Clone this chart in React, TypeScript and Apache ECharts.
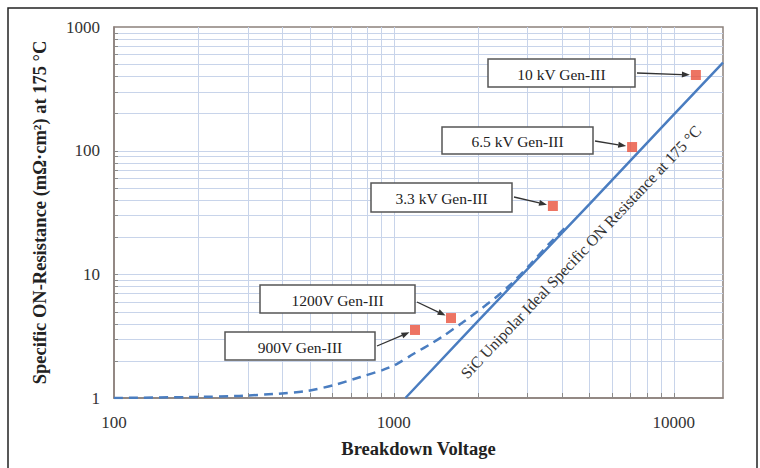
import React, { useEffect, useRef } from "react";
import * as echarts from "echarts";

// Axis structure
const xDecades = [100, 1000, 10000];
const yDecades = [1, 10, 100, 1000];
const xGridValues = [200, 300, 400, 500, 600, 700, 800, 900, 1000, 2000, 3000, 4000, 5000, 6000, 7000, 8000, 9000, 10000];
const yGridValues = [2, 3, 4, 5, 6, 7, 8, 9, 10, 20, 30, 40, 50, 60, 70, 80, 90, 100, 200, 300, 400, 500, 600, 700, 800, 900];

// SiC unipolar ideal specific on-resistance at 175 °C (solid line)
const idealVoltage = [1100, 2000, 5000, 10000, 15000];
const idealResistance = [1, 4.2, 37, 196, 515];

// Dashed curve
const practicalVoltage = [100, 200, 280, 380, 490, 610, 760, 910, 1010, 1190, 1370, 1520, 1750, 2000, 2300, 2600, 3060, 3600, 4150];
const practicalResistance = [1.0, 1.02, 1.04, 1.08, 1.14, 1.27, 1.48, 1.68, 1.85, 2.31, 2.78, 3.23, 4.04, 5.05, 6.43, 8.2, 11.9, 17.8, 24.5];

// Gen-III devices
const deviceLabels = ["900V Gen-III", "1200V Gen-III", "3.3 kV Gen-III", "6.5 kV Gen-III", "10 kV Gen-III"];
const deviceVoltage = [1190, 1600, 3700, 7100, 12000];
const deviceResistance = [3.55, 4.43, 35.7, 107, 409];

// Annotation box layout (pixels): x, y, width, height, arrow start y
const boxLayout = [
  [225, 332, 150, 28, 346],
  [260, 285, 155, 28, 302],
  [371, 183, 141, 29, 197],
  [442, 127, 151, 27, 141],
  [488, 59, 147, 28, 73],
];

const FONT = "Liberation Serif";
const BLUE = "#4a7dc0";
const FRAME = "#8c817c";
const GRID = "#c8d4ea";

export default function App() {
  const ref = useRef<HTMLDivElement>(null);
  useEffect(() => {
    const chart = echarts.init(ref.current!, null, { renderer: "svg" });
    const option: any = {
      animation: false,
      backgroundColor: "#ffffff",
      grid: {
        left: 114,
        right: 37,
        top: 27,
        bottom: 70,
        show: true,
        borderColor: FRAME,
        borderWidth: 1.5,
        backgroundColor: "transparent",
      },
      xAxis: {
        type: "log",
        logBase: 10,
        min: 100,
        max: 15000,
        name: "Breakdown Voltage",
        nameLocation: "middle",
        nameGap: 41,
        nameTextStyle: { fontFamily: FONT, fontWeight: "bold", fontSize: 18.5, color: "#222" },
        axisLine: { lineStyle: { color: FRAME, width: 1.5 } },
        axisTick: { show: false },
        splitLine: { show: false },
        axisLabel: {
          fontFamily: FONT,
          fontSize: 17,
          color: "#333",
          margin: 16,
          formatter: (v: number) => (xDecades.some((d) => Math.abs(d - v) < 1e-6) ? String(Math.round(v)) : ""),
        },
      },
      yAxis: {
        type: "log",
        logBase: 10,
        min: 1,
        max: 1000,
        name: "Specific ON-Resistance (mΩ·cm²) at 175 °C",
        nameLocation: "middle",
        nameGap: 65,
        nameTextStyle: { fontFamily: FONT, fontWeight: "bold", fontSize: 18.5, color: "#222" },
        axisLine: { lineStyle: { color: FRAME, width: 1.5 } },
        axisTick: { show: false },
        splitLine: { show: false },
        axisLabel: {
          fontFamily: FONT,
          fontSize: 17,
          color: "#333",
          margin: 14,
          formatter: (v: number) => (yDecades.some((d) => Math.abs(d - v) < 1e-6) ? String(Math.round(v)) : ""),
        },
      },
      series: [
        {
          type: "custom",
          silent: true,
          z: 1,
          data: xGridValues.map((v) => [v, 1]),
          renderItem: (_p: any, api: any) => {
            const v = api.value(0);
            const top = api.coord([v, 1000]);
            const bot = api.coord([v, 1]);
            const x = Math.round(top[0]) + 0.5;
            return {
              type: "group",
              children: [
                { type: "line", shape: { x1: x, y1: top[1], x2: x, y2: bot[1] }, style: { stroke: GRID, lineWidth: 1 } },
                { type: "line", shape: { x1: x, y1: bot[1], x2: x, y2: bot[1] - 5 }, style: { stroke: "#8a8a8a", lineWidth: 1 } },
              ],
            };
          },
        },
        {
          type: "custom",
          silent: true,
          z: 1,
          data: yGridValues.map((v) => [100, v]),
          renderItem: (_p: any, api: any) => {
            const v = api.value(1);
            const l = api.coord([100, v]);
            const r = api.coord([15000, v]);
            const y = Math.round(l[1]) + 0.5;
            return {
              type: "group",
              children: [
                { type: "line", shape: { x1: l[0], y1: y, x2: r[0], y2: y }, style: { stroke: GRID, lineWidth: 1 } },
                { type: "line", shape: { x1: l[0], y1: y, x2: l[0] + 4, y2: y }, style: { stroke: "#8a8a8a", lineWidth: 1 } },
              ],
            };
          },
        },
        {
          type: "line",
          z: 3,
          showSymbol: false,
          symbol: "none",
          data: practicalVoltage.map((v, i) => [v, practicalResistance[i]]),
          lineStyle: { color: BLUE, width: 2.5, type: [9, 6] },
          smooth: 0.2,
        },
        {
          type: "line",
          z: 4,
          showSymbol: false,
          symbol: "none",
          data: idealVoltage.map((v, i) => [v, idealResistance[i]]),
          lineStyle: { color: BLUE, width: 2.5 },
        },
        {
          type: "scatter",
          z: 5,
          symbol: "rect",
          symbolSize: 10,
          itemStyle: { color: "#e8513c" },
          data: deviceVoltage.map((v, i) => [v, deviceResistance[i]]),
        },
      ],
    };
    chart.setOption(option);

    const px = (v: number, r: number) => chart.convertToPixel({ gridIndex: 0 } as any, [v, r]) as number[];
    const graphics: any[] = [];
    graphics.push({
      type: "rect",
      silent: true,
      z: 100,
      shape: { x: 8, y: 8, width: 749, height: 520 },
      style: { fill: "none", stroke: "#222", lineWidth: 1.5 },
    });
    deviceLabels.forEach((label, i) => {
      const [bx, by, bw, bh, ay] = boxLayout[i];
      graphics.push({
        type: "rect",
        z: 10,
        shape: { x: bx, y: by, width: bw, height: bh },
        style: { fill: "#ffffff", stroke: "#555", lineWidth: 1.5 },
      });
      graphics.push({
        type: "text",
        z: 11,
        x: bx + bw / 2,
        y: by + bh / 2 + 1,
        style: {
          text: label,
          fontFamily: FONT,
          fontSize: 15.5,
          fill: "#222",
          align: "center",
          verticalAlign: "middle",
          textAlign: "center",
          textVerticalAlign: "middle",
        },
      });
      const m = px(deviceVoltage[i], deviceResistance[i]);
      const sx = bx + bw + 2;
      const sy = ay;
      const dx = m[0] - sx;
      const dy = m[1] - sy;
      const len = Math.sqrt(dx * dx + dy * dy);
      const ux = dx / len;
      const uy = dy / len;
      const tipX = m[0] - ux * 6;
      const tipY = m[1] - uy * 6;
      const baseX = tipX - ux * 8;
      const baseY = tipY - uy * 8;
      graphics.push({
        type: "line",
        z: 10,
        shape: { x1: sx, y1: sy, x2: baseX, y2: baseY },
        style: { stroke: "#333", lineWidth: 1.3 },
      });
      graphics.push({
        type: "polygon",
        z: 10,
        shape: {
          points: [
            [tipX, tipY],
            [baseX - uy * 3, baseY + ux * 3],
            [baseX + uy * 3, baseY - ux * 3],
          ],
        },
        style: { fill: "#333" },
      });
    });
    const p1 = px(idealVoltage[0], idealResistance[0]);
    const p2 = px(idealVoltage[idealVoltage.length - 1], idealResistance[idealResistance.length - 1]);
    const angle = Math.atan2(p1[1] - p2[1], p2[0] - p1[0]);
    graphics.push({
      type: "text",
      z: 10,
      x: 581,
      y: 252,
      rotation: angle,
      style: {
        text: "SiC Unipolar Ideal Specific ON Resistance at 175 °C",
        fontFamily: FONT,
        fontSize: 16,
        fill: "#333",
        align: "center",
        verticalAlign: "middle",
        textAlign: "center",
        textVerticalAlign: "middle",
      },
    });
    chart.setOption({ graphic: graphics });

    return () => chart.dispose();
  }, []);
  return (
    <div
      ref={ref}
      style={{ position: "fixed", left: 0, top: 0, width: 760, height: 468, background: "#fff" }}
    />
  );
}
